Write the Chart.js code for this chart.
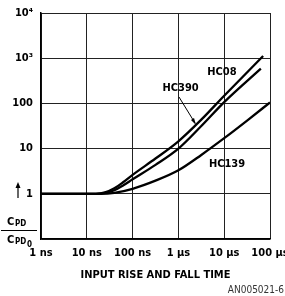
<!DOCTYPE html>
<html>
<head>
<meta charset="utf-8">
<script src="https://cdn.jsdelivr.net/npm/chart.js"></script>
<style>
  html, body { margin: 0; padding: 0; background: #fff; }
  #wrap { width: 285px; height: 296px; }
</style>
</head>
<body>
<div id="wrap"><canvas id="cpd" width="285" height="296"></canvas></div>
<script>
// rise/fall time in ns, CPD/CPD0 ratio
const hc08Time = [1, 10, 15.8, 25, 40, 63, 100, 316, 1000, 3162, 10000, 70800];
const hc08Ratio = [1, 1, 1, 1.07, 1.32, 1.82, 2.63, 6.03, 14.5, 43.7, 148, 1120];
const hc390Time = [1, 10, 15.8, 25, 40, 63, 100, 316, 1000, 3162, 10000, 63100];
const hc390Ratio = [1, 1, 1, 1.05, 1.2, 1.55, 2.09, 4.37, 10, 31.6, 107, 589];
const hc139Time = [1, 10, 20, 40, 100, 316, 1000, 3162, 10000, 31620, 100000];
const hc139Ratio = [1, 1, 1, 1.05, 1.29, 1.95, 3.31, 7.24, 17, 41.7, 105];

const xTicks = [1, 10, 100, 1000, 10000, 100000];
const xTickLabels = ['1 ns', '10 ns', '100 ns', '1 \u00b5s', '10 \u00b5s', '100 \u00b5s'];
const yTicks = [0.1, 1, 10, 100, 1000, 10000];
const yTickLabels = ['', '1', '10', '100', '10\u00b3', '10\u2074'];

const FONT = "'DejaVu Sans Condensed', 'DejaVu Sans', sans-serif";

function pts(t, v) {
  return t.map((x, i) => ({ x: x, y: v[i] }));
}

function curve(data) {
  return {
    data: data,
    borderColor: '#000',
    borderWidth: 2.3,
    pointRadius: 0,
    fill: false,
    cubicInterpolationMode: 'monotone'
  };
}

// labels, leader arrow and the CPD/CPD0 axis note
const notes = {
  id: 'notes',
  afterDraw(chart) {
    const ctx = chart.ctx;
    const xs = chart.scales.x, ys = chart.scales.y;
    ctx.save();
    ctx.fillStyle = '#000';
    ctx.strokeStyle = '#000';
    ctx.textAlign = 'center';
    ctx.textBaseline = 'middle';
    ctx.font = 'bold 11px ' + FONT;
    ctx.fillText('HC08', xs.getPixelForValue(8900), ys.getPixelForValue(480));
    ctx.fillText('HC390', xs.getPixelForValue(1120), ys.getPixelForValue(214));
    ctx.fillText('HC139', xs.getPixelForValue(11500), ys.getPixelForValue(4.6));

    // leader for HC390
    ctx.lineWidth = 1;
    ctx.beginPath();
    ctx.moveTo(179, 97);
    ctx.lineTo(195, 123);
    ctx.stroke();
    ctx.beginPath();
    ctx.moveTo(196, 125);
    ctx.lineTo(191, 120);
    ctx.lineTo(194, 118);
    ctx.closePath();
    ctx.fill();

    // up arrow beside the "1"
    ctx.lineWidth = 1.2;
    ctx.beginPath();
    ctx.moveTo(18, 198);
    ctx.lineTo(18, 186);
    ctx.stroke();
    ctx.beginPath();
    ctx.moveTo(18, 182);
    ctx.lineTo(15.5, 188);
    ctx.lineTo(20.5, 188);
    ctx.closePath();
    ctx.fill();

    // CPD / CPD0
    ctx.textAlign = 'left';
    ctx.textBaseline = 'alphabetic';
    ctx.font = 'bold 11px ' + FONT;
    ctx.fillText('C', 7, 225);
    ctx.font = 'bold 8px ' + FONT;
    ctx.fillText('PD', 15, 226);
    ctx.lineWidth = 1;
    ctx.beginPath();
    ctx.moveTo(1, 230.5);
    ctx.lineTo(37, 230.5);
    ctx.stroke();
    ctx.font = 'bold 11px ' + FONT;
    ctx.fillText('C', 7, 243);
    ctx.font = 'bold 8px ' + FONT;
    ctx.fillText('PD', 15, 244);
    ctx.fillText('0', 27, 247);

    ctx.textAlign = 'right';
    ctx.font = '10px ' + FONT;
    ctx.fillStyle = '#333';
    ctx.fillText('AN005021-6', 284, 293);
    ctx.restore();
  }
};

new Chart(document.getElementById('cpd'), {
  type: 'line',
  data: {
    datasets: [
      curve(pts(hc08Time, hc08Ratio)),
      curve(pts(hc390Time, hc390Ratio)),
      curve(pts(hc139Time, hc139Ratio))
    ]
  },
  options: {
    responsive: false,
    animation: false,
    devicePixelRatio: 1,
    layout: { padding: { top: 13, right: 15, left: 0, bottom: 0 } },
    plugins: { legend: { display: false }, tooltip: { enabled: false } },
    scales: {
      x: {
        type: 'logarithmic',
        min: 1,
        max: 100000,
        afterBuildTicks(s) { s.ticks = xTicks.map(v => ({ value: v })); },
        afterFit(s) {
          s.height = 57;
          s.paddingLeft = 0; s.paddingRight = 0;
        },
        ticks: {
          autoSkip: false,
          maxRotation: 0,
          padding: 8,
          color: '#000',
          font: { family: FONT, size: 11, weight: 'bold' },
          callback: (v, i) => xTickLabels[i]
        },
        grid: { color: '#222', lineWidth: 1, drawTicks: false },
        border: { color: '#000', width: 1.5 },
        title: {
          display: true,
          text: 'INPUT RISE AND FALL TIME',
          color: '#000',
          font: { family: FONT, size: 11, weight: 'bold' },
          padding: { top: 0, bottom: 14 }
        }
      },
      y: {
        type: 'logarithmic',
        min: 0.1,
        max: 10000,
        afterBuildTicks(s) { s.ticks = yTicks.map(v => ({ value: v })); },
        afterFit(s) {
          s.width = 41;
          s.paddingTop = 0; s.paddingBottom = 0;
        },
        ticks: {
          padding: 8,
          color: '#000',
          font: { family: FONT, size: 11, weight: 'bold' },
          callback: (v, i) => yTickLabels[i]
        },
        grid: { color: '#222', lineWidth: 1, drawTicks: false },
        border: { color: '#000', width: 1.5 }
      }
    }
  },
  plugins: [notes]
});
</script>
</body>
</html>
